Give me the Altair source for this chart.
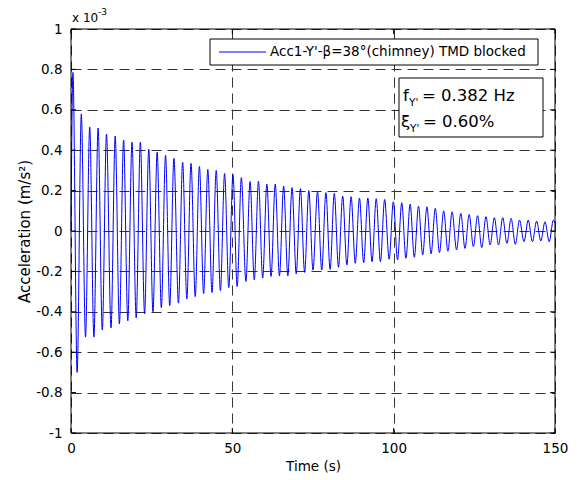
import altair as alt
import pandas as pd

# ---- data (acceleration in units of 1e-3 m/s^2) ----
peak_t = [0.6, 3.2, 5.8, 8.4, 11.0, 13.7, 16.3, 18.9, 21.5, 24.1, 26.7, 29.3, 31.9, 34.6,
          37.2, 39.8, 42.4, 45.0, 47.6, 50.2, 52.8, 55.5, 58.1, 60.7, 63.3, 65.9, 68.5, 71.1,
          73.7, 76.4, 79.0, 81.6, 84.2, 86.8, 89.4, 92.0, 94.6, 97.2, 99.9, 102.5, 105.1,
          107.7, 110.3, 112.9, 115.5, 118.1, 120.8, 123.4, 126.0, 128.6, 131.2, 133.8, 136.4,
          139.0, 141.7, 144.3, 146.9, 149.5]
peak_v = [0.785, 0.58, 0.515, 0.51, 0.48, 0.47, 0.45, 0.44, 0.44, 0.405, 0.39, 0.375, 0.36,
          0.34, 0.335, 0.32, 0.305, 0.30, 0.285, 0.28, 0.265, 0.245, 0.247, 0.232, 0.232,
          0.222, 0.215, 0.21, 0.20, 0.195, 0.19, 0.186, 0.173, 0.17, 0.163, 0.163, 0.16,
          0.156, 0.145, 0.14, 0.133, 0.123, 0.12, 0.112, 0.10, 0.095, 0.087, 0.082, 0.076,
          0.071, 0.066, 0.066, 0.063, 0.054, 0.054, 0.049, 0.046, 0.054]
trough_t = [1.9, 4.5, 7.1, 9.7, 12.4, 15.0, 17.6, 20.2, 22.8, 25.4, 28.0, 30.6, 33.3, 35.9,
            38.5, 41.1, 43.7, 46.3, 48.9, 51.5, 54.2, 56.8, 59.4, 62.0, 64.6, 67.2, 69.8,
            72.4, 75.0, 77.7, 80.3, 82.9, 85.5, 88.1, 90.7, 93.3, 95.9, 98.6, 101.2, 103.8,
            106.4, 109.0, 111.6, 114.2, 116.8, 119.5, 122.1, 124.7, 127.3, 129.9, 132.5,
            135.1, 137.7, 140.4, 143.0, 145.6, 148.2]
trough_v = [-0.70, -0.525, -0.525, -0.49, -0.48, -0.46, -0.445, -0.43, -0.41, -0.40, -0.38,
            -0.37, -0.357, -0.337, -0.325, -0.31, -0.305, -0.295, -0.28, -0.275, -0.25,
            -0.242, -0.233, -0.225, -0.222, -0.222, -0.212, -0.205, -0.193, -0.193, -0.19,
            -0.18, -0.168, -0.16, -0.157, -0.152, -0.152, -0.14, -0.143, -0.135, -0.13,
            -0.118, -0.113, -0.107, -0.10, -0.094, -0.086, -0.077, -0.082, -0.069, -0.069,
            -0.061, -0.066, -0.053, -0.053, -0.049, -0.053]
start_t, start_v = 0.0, 0.0
end_t, end_v = 150.0, 0.04

x_ticks = [0, 50, 100, 150]
y_ticks = [-1, -0.8, -0.6, -0.4, -0.2, 0, 0.2, 0.4, 0.6, 0.8, 1]

legend_label = "Acc1-Y'-\u03b2=38\u00b0(chimney) TMD blocked"

# ---- build table ----
ts = [start_t] + peak_t + trough_t + [end_t]
vs = [start_v] + peak_v + trough_v + [end_v]
df = pd.DataFrame({"t": ts, "a": vs}).sort_values("t").reset_index(drop=True)
xt_df = pd.DataFrame({"t": x_ticks})
yt_df = pd.DataFrame({"a": y_ticks})
one = pd.DataFrame({"k": [0]})

W, H = 484, 404
FONT = "DejaVu Sans"
FS = 13.5

xscale = alt.Scale(domain=[0, 150], nice=False, zero=False)
yscale = alt.Scale(domain=[-1, 1], nice=False, zero=False)

line = alt.Chart(df).mark_line(color="#0000ff", strokeWidth=1, interpolate="monotone").encode(
    x=alt.X("t:Q", scale=xscale, axis=alt.Axis(
        values=x_ticks, title="Time (s)", grid=True, gridDash=[10, 6], gridColor="#333333",
        gridWidth=1, ticks=False, domain=False, labelFont=FONT, labelFontSize=FS,
        labelColor="black", labelPadding=8, labelFlush=False, labelOverlap=False,
        titleFont=FONT, titleFontSize=FS, titleFontWeight="normal", titleColor="black",
        titlePadding=5)),
    y=alt.Y("a:Q", scale=yscale, axis=alt.Axis(
        values=y_ticks, title="Acceleration (m/s\u00b2)", grid=True, gridDash=[10, 6],
        gridColor="#333333", gridWidth=1, ticks=False, domain=False,
        labelExpr="toString(round(datum.value*10)/10)", labelFont=FONT, labelFontSize=FS,
        labelColor="black", labelPadding=9, labelFlush=False, labelOverlap=False,
        titleFont=FONT, titleFontSize=15, titleFontWeight="normal", titleColor="black",
        titlePadding=3)),
)

tick_b = alt.Chart(xt_df).mark_rule(color="black").encode(
    x="t:Q", y=alt.value(H), y2=alt.value(H - 5))
tick_t = alt.Chart(xt_df).mark_rule(color="black").encode(
    x="t:Q", y=alt.value(0), y2=alt.value(5))
tick_l = alt.Chart(yt_df).mark_rule(color="black").encode(
    y="a:Q", x=alt.value(0), x2=alt.value(5))
tick_r = alt.Chart(yt_df).mark_rule(color="black").encode(
    y="a:Q", x=alt.value(W), x2=alt.value(W - 5))

frame = alt.Chart(one).mark_rect(filled=False, stroke="black", strokeWidth=1).encode(
    x=alt.value(0), x2=alt.value(W), y=alt.value(0), y2=alt.value(H))

leg_box = alt.Chart(one).mark_rect(fill="white", stroke="black", strokeWidth=1).encode(
    x=alt.value(139), x2=alt.value(467), y=alt.value(10), y2=alt.value(36))
leg_line = alt.Chart(one).mark_rule(color="#0000ff", strokeWidth=1).encode(
    x=alt.value(148), x2=alt.value(195), y=alt.value(23))
leg_text = alt.Chart(one).mark_text(text=legend_label, align="left", baseline="middle",
                                    font=FONT, fontSize=FS, color="black").encode(
    x=alt.value(199), y=alt.value(23))

box = alt.Chart(one).mark_rect(fill="white", stroke="black", strokeWidth=1).encode(
    x=alt.value(328), x2=alt.value(472), y=alt.value(49), y2=alt.value(108))

def txt(s, x, y, size, align="left"):
    return alt.Chart(one).mark_text(text=s, align=align, baseline="alphabetic", font=FONT,
                                    fontSize=size, color="black").encode(
        x=alt.value(x), y=alt.value(y))

BS = 16.5
texts = [
    txt("f", 332, 72, BS), txt("Y'", 338, 77, 10.5), txt("= 0.382 Hz", 351, 72, BS),
    txt("\u03be", 330, 98, BS), txt("Y'", 339, 103, 10.5), txt("= 0.60%", 352, 98, BS),
    txt("x 10", 1, -7, 12), txt("-3", 27, -14, 9),
]

chart = alt.layer(
    line, tick_b, tick_t, tick_l, tick_r, leg_box, leg_line, leg_text, box, *texts, frame
).properties(
    width=W, height=H,
    autosize=alt.AutoSizeParams(type="none"),
    padding={"left": 63, "top": 21, "right": 15, "bottom": 40},
    background="white",
).configure_view(strokeWidth=0)

chart.save("out.html", embed_options={"renderer": "svg", "actions": False})
